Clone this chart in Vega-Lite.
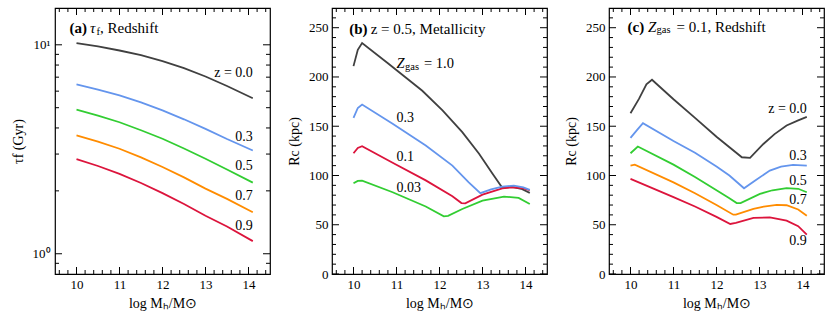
{
  "$schema": "https://vega.github.io/schema/vega-lite/v6.json",
  "padding": {"left": 10, "top": 7, "right": 4, "bottom": 0},
  "spacing": 15,
  "config": {
    "view": {"stroke": "black", "strokeWidth": 1.2},
    "axis": {"ticks": false, "grid": false, "domain": false,
      "labelFont": "Liberation Serif", "labelFontSize": 13, "labelColor": "black",
      "titleFont": "Liberation Serif", "titleFontSize": 14, "titleFontWeight": "normal", "titleColor": "black"},
    "text": {"font": "Liberation Serif", "fontSize": 14, "color": "black", "baseline": "middle"},
    "line": {"strokeWidth": 1.8},
    "tick": {"color": "black", "opacity": 1, "thickness": 1}
  },
  "datasets": {
    "xmaj": [{"v": 10}, {"v": 11}, {"v": 12}, {"v": 13}, {"v": 14}],
    "xmin": [{"v": 9.6}, {"v": 9.8}, {"v": 10.2}, {"v": 10.4}, {"v": 10.6}, {"v": 10.8}, {"v": 11.2}, {"v": 11.4}, {"v": 11.6}, {"v": 11.8}, {"v": 12.2}, {"v": 12.4}, {"v": 12.6}, {"v": 12.8}, {"v": 13.2}, {"v": 13.4}, {"v": 13.6}, {"v": 13.8}, {"v": 14.2}, {"v": 14.4}],
    "ymaj_a": [{"v": 1}, {"v": 10}],
    "ymin_a": [{"v": 0.9}, {"v": 2}, {"v": 3}, {"v": 4}, {"v": 5}, {"v": 6}, {"v": 7}, {"v": 8}, {"v": 9}],
    "ymaj_r": [{"v": 0}, {"v": 50}, {"v": 100}, {"v": 150}, {"v": 200}, {"v": 250}],
    "ymin_r": [{"v": 10}, {"v": 20}, {"v": 30}, {"v": 40}, {"v": 60}, {"v": 70}, {"v": 80}, {"v": 90}, {"v": 110}, {"v": 120}, {"v": 130}, {"v": 140}, {"v": 160}, {"v": 170}, {"v": 180}, {"v": 190}, {"v": 210}, {"v": 220}, {"v": 230}, {"v": 240}, {"v": 260}],
    "a": [
      {"z": "0.0", "m": 10.0, "tau": 10.18}, {"z": "0.0", "m": 10.5, "tau": 9.82}, {"z": "0.0", "m": 11.0, "tau": 9.39}, {"z": "0.0", "m": 11.5, "tau": 8.92}, {"z": "0.0", "m": 12.0, "tau": 8.35}, {"z": "0.0", "m": 12.5, "tau": 7.73}, {"z": "0.0", "m": 13.0, "tau": 7.05}, {"z": "0.0", "m": 13.5, "tau": 6.35}, {"z": "0.0", "m": 14.1, "tau": 5.55},
      {"z": "0.3", "m": 10.0, "tau": 6.46}, {"z": "0.3", "m": 10.5, "tau": 6.10}, {"z": "0.3", "m": 11.0, "tau": 5.72}, {"z": "0.3", "m": 11.5, "tau": 5.30}, {"z": "0.3", "m": 12.0, "tau": 4.85}, {"z": "0.3", "m": 12.5, "tau": 4.40}, {"z": "0.3", "m": 13.0, "tau": 3.96}, {"z": "0.3", "m": 13.5, "tau": 3.54}, {"z": "0.3", "m": 14.1, "tau": 3.12},
      {"z": "0.5", "m": 10.0, "tau": 4.89}, {"z": "0.5", "m": 10.5, "tau": 4.58}, {"z": "0.5", "m": 11.0, "tau": 4.26}, {"z": "0.5", "m": 11.5, "tau": 3.90}, {"z": "0.5", "m": 12.0, "tau": 3.55}, {"z": "0.5", "m": 12.5, "tau": 3.19}, {"z": "0.5", "m": 13.0, "tau": 2.85}, {"z": "0.5", "m": 13.5, "tau": 2.53}, {"z": "0.5", "m": 14.1, "tau": 2.19},
      {"z": "0.7", "m": 10.0, "tau": 3.69}, {"z": "0.7", "m": 10.5, "tau": 3.44}, {"z": "0.7", "m": 11.0, "tau": 3.18}, {"z": "0.7", "m": 11.5, "tau": 2.89}, {"z": "0.7", "m": 12.0, "tau": 2.60}, {"z": "0.7", "m": 12.5, "tau": 2.32}, {"z": "0.7", "m": 13.0, "tau": 2.05}, {"z": "0.7", "m": 13.5, "tau": 1.83}, {"z": "0.7", "m": 14.1, "tau": 1.58},
      {"z": "0.9", "m": 10.0, "tau": 2.84}, {"z": "0.9", "m": 10.5, "tau": 2.63}, {"z": "0.9", "m": 11.0, "tau": 2.41}, {"z": "0.9", "m": 11.5, "tau": 2.18}, {"z": "0.9", "m": 12.0, "tau": 1.95}, {"z": "0.9", "m": 12.5, "tau": 1.73}, {"z": "0.9", "m": 13.0, "tau": 1.52}, {"z": "0.9", "m": 13.5, "tau": 1.35}, {"z": "0.9", "m": 14.1, "tau": 1.149}
    ],
    "b": [
      {"zgas": "1.0", "m": 10.0, "rc": 211}, {"zgas": "1.0", "m": 10.1, "rc": 227.5}, {"zgas": "1.0", "m": 10.2, "rc": 234.5}, {"zgas": "1.0", "m": 10.8, "rc": 214}, {"zgas": "1.0", "m": 11.2, "rc": 200}, {"zgas": "1.0", "m": 11.6, "rc": 186}, {"zgas": "1.0", "m": 12.07, "rc": 166}, {"zgas": "1.0", "m": 12.53, "rc": 144}, {"zgas": "1.0", "m": 12.92, "rc": 122}, {"zgas": "1.0", "m": 13.23, "rc": 102}, {"zgas": "1.0", "m": 13.46, "rc": 87.5}, {"zgas": "1.0", "m": 13.69, "rc": 88.5}, {"zgas": "1.0", "m": 13.9, "rc": 86.5}, {"zgas": "1.0", "m": 14.1, "rc": 82.3},
      {"zgas": "0.1", "m": 10.0, "rc": 122.6}, {"zgas": "0.1", "m": 10.1, "rc": 128}, {"zgas": "0.1", "m": 10.2, "rc": 129.7}, {"zgas": "0.1", "m": 10.91, "rc": 113}, {"zgas": "0.1", "m": 11.68, "rc": 95}, {"zgas": "0.1", "m": 12.3, "rc": 79}, {"zgas": "0.1", "m": 12.51, "rc": 72}, {"zgas": "0.1", "m": 12.6, "rc": 71.7}, {"zgas": "0.1", "m": 13.0, "rc": 80.5}, {"zgas": "0.1", "m": 13.46, "rc": 87}, {"zgas": "0.1", "m": 13.69, "rc": 88}, {"zgas": "0.1", "m": 13.95, "rc": 87}, {"zgas": "0.1", "m": 14.1, "rc": 85},
      {"zgas": "0.03", "m": 10.0, "rc": 92.1}, {"zgas": "0.03", "m": 10.1, "rc": 94.5}, {"zgas": "0.03", "m": 10.2, "rc": 94.8}, {"zgas": "0.03", "m": 10.91, "rc": 83}, {"zgas": "0.03", "m": 11.68, "rc": 68.5}, {"zgas": "0.03", "m": 12.1, "rc": 58.5}, {"zgas": "0.03", "m": 12.2, "rc": 59}, {"zgas": "0.03", "m": 12.53, "rc": 66}, {"zgas": "0.03", "m": 13.0, "rc": 74.5}, {"zgas": "0.03", "m": 13.5, "rc": 78.6}, {"zgas": "0.03", "m": 13.84, "rc": 77.2}, {"zgas": "0.03", "m": 14.1, "rc": 71.1},
      {"zgas": "0.3", "m": 10.0, "rc": 158.5}, {"zgas": "0.3", "m": 10.1, "rc": 168.5}, {"zgas": "0.3", "m": 10.2, "rc": 172}, {"zgas": "0.3", "m": 10.91, "rc": 152.4}, {"zgas": "0.3", "m": 11.68, "rc": 130.4}, {"zgas": "0.3", "m": 12.3, "rc": 110}, {"zgas": "0.3", "m": 12.68, "rc": 93}, {"zgas": "0.3", "m": 12.95, "rc": 82}, {"zgas": "0.3", "m": 13.2, "rc": 85.8}, {"zgas": "0.3", "m": 13.46, "rc": 88.7}, {"zgas": "0.3", "m": 13.73, "rc": 89.7}, {"zgas": "0.3", "m": 13.95, "rc": 88}, {"zgas": "0.3", "m": 14.1, "rc": 85.4}
    ],
    "c": [
      {"z": "0.0", "m": 10.0, "rc": 163.2}, {"z": "0.0", "m": 10.2, "rc": 178}, {"z": "0.0", "m": 10.37, "rc": 192.6}, {"z": "0.0", "m": 10.5, "rc": 197.2}, {"z": "0.0", "m": 11.0, "rc": 177.4}, {"z": "0.0", "m": 11.5, "rc": 158.5}, {"z": "0.0", "m": 12.0, "rc": 139.3}, {"z": "0.0", "m": 12.59, "rc": 118.5}, {"z": "0.0", "m": 12.78, "rc": 117.9}, {"z": "0.0", "m": 13.09, "rc": 132}, {"z": "0.0", "m": 13.35, "rc": 142}, {"z": "0.0", "m": 13.63, "rc": 150.7}, {"z": "0.0", "m": 13.9, "rc": 156}, {"z": "0.0", "m": 14.1, "rc": 159.5},
      {"z": "0.3", "m": 10.0, "rc": 138.2}, {"z": "0.3", "m": 10.15, "rc": 146}, {"z": "0.3", "m": 10.29, "rc": 153}, {"z": "0.3", "m": 11.0, "rc": 135}, {"z": "0.3", "m": 11.5, "rc": 123}, {"z": "0.3", "m": 12.0, "rc": 109}, {"z": "0.3", "m": 12.3, "rc": 100}, {"z": "0.3", "m": 12.64, "rc": 87}, {"z": "0.3", "m": 12.9, "rc": 95}, {"z": "0.3", "m": 13.24, "rc": 105}, {"z": "0.3", "m": 13.5, "rc": 109}, {"z": "0.3", "m": 13.78, "rc": 110.8}, {"z": "0.3", "m": 14.1, "rc": 110},
      {"z": "0.5", "m": 10.0, "rc": 122.6}, {"z": "0.5", "m": 10.17, "rc": 129.4}, {"z": "0.5", "m": 11.0, "rc": 111}, {"z": "0.5", "m": 11.5, "rc": 98.5}, {"z": "0.5", "m": 12.0, "rc": 85}, {"z": "0.5", "m": 12.3, "rc": 77}, {"z": "0.5", "m": 12.47, "rc": 72}, {"z": "0.5", "m": 12.56, "rc": 72}, {"z": "0.5", "m": 13.01, "rc": 81.3}, {"z": "0.5", "m": 13.3, "rc": 85}, {"z": "0.5", "m": 13.63, "rc": 87.2}, {"z": "0.5", "m": 13.9, "rc": 86.5}, {"z": "0.5", "m": 14.1, "rc": 83},
      {"z": "0.7", "m": 10.0, "rc": 110}, {"z": "0.7", "m": 10.1, "rc": 111}, {"z": "0.7", "m": 11.0, "rc": 93}, {"z": "0.7", "m": 11.5, "rc": 82}, {"z": "0.7", "m": 12.0, "rc": 70}, {"z": "0.7", "m": 12.39, "rc": 60.2}, {"z": "0.7", "m": 12.45, "rc": 60.3}, {"z": "0.7", "m": 12.86, "rc": 66}, {"z": "0.7", "m": 13.1, "rc": 68.5}, {"z": "0.7", "m": 13.4, "rc": 70.1}, {"z": "0.7", "m": 13.63, "rc": 69.8}, {"z": "0.7", "m": 13.9, "rc": 65.5}, {"z": "0.7", "m": 14.1, "rc": 59.2},
      {"z": "0.9", "m": 10.0, "rc": 96.5}, {"z": "0.9", "m": 11.0, "rc": 78}, {"z": "0.9", "m": 11.5, "rc": 68.5}, {"z": "0.9", "m": 12.0, "rc": 58}, {"z": "0.9", "m": 12.32, "rc": 50.8}, {"z": "0.9", "m": 12.45, "rc": 52}, {"z": "0.9", "m": 12.86, "rc": 56.9}, {"z": "0.9", "m": 13.24, "rc": 57.5}, {"z": "0.9", "m": 13.63, "rc": 54.2}, {"z": "0.9", "m": 13.9, "rc": 48.5}, {"z": "0.9", "m": 14.1, "rc": 40}
    ],
    "notes": [
      {"panel": "a", "part": "bold", "x": 9.84, "y": 11.97, "text": "(a)"},
      {"panel": "a", "part": "main", "x": 9.84, "y": 11.97, "text": "τ"},
      {"panel": "a", "part": "sub", "x": 9.84, "y": 11.97, "text": "f"},
      {"panel": "a", "part": "rest", "x": 9.84, "y": 11.97, "text": ",  Redshift"},
      {"panel": "a", "part": "series", "x": 14.1, "y": 7.33, "text": "z = 0.0"},
      {"panel": "a", "part": "series", "x": 14.1, "y": 3.64, "text": "0.3"},
      {"panel": "a", "part": "series", "x": 14.1, "y": 2.64, "text": "0.5"},
      {"panel": "a", "part": "series", "x": 14.1, "y": 1.88, "text": "0.7"},
      {"panel": "a", "part": "series", "x": 14.1, "y": 1.354, "text": "0.9"},
      {"panel": "b", "part": "bold", "x": 9.9, "y": 249, "text": "(b)"},
      {"panel": "b", "part": "rest", "x": 9.9, "y": 249, "text": "z = 0.5,  Metallicity"},
      {"panel": "b", "part": "main", "x": 11.0, "y": 213.4, "text": "Z"},
      {"panel": "b", "part": "sub", "x": 11.0, "y": 213.4, "text": "gas"},
      {"panel": "b", "part": "eq", "x": 11.0, "y": 213.4, "text": "= 1.0"},
      {"panel": "b", "part": "series", "x": 11.0, "y": 158.3, "text": "0.3"},
      {"panel": "b", "part": "series", "x": 11.0, "y": 118.5, "text": "0.1"},
      {"panel": "b", "part": "series", "x": 11.0, "y": 87.5, "text": "0.03"},
      {"panel": "c", "part": "bold", "x": 9.93, "y": 251, "text": "(c)"},
      {"panel": "c", "part": "main", "x": 9.93, "y": 251, "text": "Z"},
      {"panel": "c", "part": "sub", "x": 9.93, "y": 251, "text": "gas"},
      {"panel": "c", "part": "rest", "x": 9.93, "y": 251, "text": "= 0.1,  Redshift"},
      {"panel": "c", "part": "series", "x": 14.1, "y": 167, "text": "z = 0.0"},
      {"panel": "c", "part": "series", "x": 14.1, "y": 119.4, "text": "0.3"},
      {"panel": "c", "part": "series", "x": 14.1, "y": 94, "text": "0.5"},
      {"panel": "c", "part": "series", "x": 14.1, "y": 74.7, "text": "0.7"},
      {"panel": "c", "part": "series", "x": 14.1, "y": 33.8, "text": "0.9"}
    ]
  },
  "hconcat": [
    {
      "width": 215, "height": 266,
      "layer": [
        {"data": {"name": "a"}, "mark": {"type": "line"},
         "encoding": {
           "x": {"field": "m", "type": "quantitative", "scale": {"domain": [9.5, 14.5], "nice": false, "zero": false},
                 "axis": {"values": [10, 11, 12, 13, 14], "labelPadding": 4, "title": "log Mₕ/M⊙", "titlePadding": 5}},
           "y": {"field": "tau", "type": "quantitative", "scale": {"type": "log", "domain": [0.8, 15], "nice": false},
                 "axis": {"values": [1, 10], "labelExpr": "datum.value >= 10 ? '10¹' : '10⁰'", "labelPadding": 5, "title": "τf (Gyr)", "titlePadding": 7}},
           "color": {"field": "z", "type": "nominal", "scale": {"domain": ["0.0", "0.3", "0.5", "0.7", "0.9"], "range": ["#404040", "#6495ED", "#32CD32", "#FF8C00", "#DC143C"]}, "legend": null}
         }},
        {"data": {"name": "xmaj"}, "mark": {"type": "tick", "orient": "vertical", "size": 14, "clip": true},
         "encoding": {"x": {"field": "v", "type": "quantitative", "axis": {"values": [10, 11, 12, 13, 14], "labelPadding": 4, "title": "log Mₕ/M⊙", "titlePadding": 5}},
                      "y": {"datum": 0.8, "type": "quantitative", "axis": {"values": [1, 10], "labelExpr": "datum.value >= 10 ? '10¹' : '10⁰'", "labelPadding": 5, "title": "τf (Gyr)", "titlePadding": 7}}}},
        {"data": {"name": "xmaj"}, "mark": {"type": "tick", "orient": "vertical", "size": 14, "clip": true},
         "encoding": {"x": {"field": "v", "type": "quantitative", "axis": {"values": [10, 11, 12, 13, 14], "labelPadding": 4, "title": "log Mₕ/M⊙", "titlePadding": 5}},
                      "y": {"datum": 15, "type": "quantitative", "axis": {"values": [1, 10], "labelExpr": "datum.value >= 10 ? '10¹' : '10⁰'", "labelPadding": 5, "title": "τf (Gyr)", "titlePadding": 7}}}},
        {"data": {"name": "xmin"}, "mark": {"type": "tick", "orient": "vertical", "size": 8, "clip": true},
         "encoding": {"x": {"field": "v", "type": "quantitative", "axis": {"values": [10, 11, 12, 13, 14], "labelPadding": 4, "title": "log Mₕ/M⊙", "titlePadding": 5}},
                      "y": {"datum": 0.8, "type": "quantitative", "axis": {"values": [1, 10], "labelExpr": "datum.value >= 10 ? '10¹' : '10⁰'", "labelPadding": 5, "title": "τf (Gyr)", "titlePadding": 7}}}},
        {"data": {"name": "xmin"}, "mark": {"type": "tick", "orient": "vertical", "size": 8, "clip": true},
         "encoding": {"x": {"field": "v", "type": "quantitative", "axis": {"values": [10, 11, 12, 13, 14], "labelPadding": 4, "title": "log Mₕ/M⊙", "titlePadding": 5}},
                      "y": {"datum": 15, "type": "quantitative", "axis": {"values": [1, 10], "labelExpr": "datum.value >= 10 ? '10¹' : '10⁰'", "labelPadding": 5, "title": "τf (Gyr)", "titlePadding": 7}}}},
        {"data": {"name": "ymaj_a"}, "mark": {"type": "tick", "orient": "horizontal", "size": 14, "clip": true},
         "encoding": {"y": {"field": "v", "type": "quantitative", "axis": {"values": [1, 10], "labelExpr": "datum.value >= 10 ? '10¹' : '10⁰'", "labelPadding": 5, "title": "τf (Gyr)", "titlePadding": 7}},
                      "x": {"datum": 9.5, "type": "quantitative", "axis": {"values": [10, 11, 12, 13, 14], "labelPadding": 4, "title": "log Mₕ/M⊙", "titlePadding": 5}}}},
        {"data": {"name": "ymaj_a"}, "mark": {"type": "tick", "orient": "horizontal", "size": 14, "clip": true},
         "encoding": {"y": {"field": "v", "type": "quantitative", "axis": {"values": [1, 10], "labelExpr": "datum.value >= 10 ? '10¹' : '10⁰'", "labelPadding": 5, "title": "τf (Gyr)", "titlePadding": 7}},
                      "x": {"datum": 14.5, "type": "quantitative", "axis": {"values": [10, 11, 12, 13, 14], "labelPadding": 4, "title": "log Mₕ/M⊙", "titlePadding": 5}}}},
        {"data": {"name": "ymin_a"}, "mark": {"type": "tick", "orient": "horizontal", "size": 8, "clip": true},
         "encoding": {"y": {"field": "v", "type": "quantitative", "axis": {"values": [1, 10], "labelExpr": "datum.value >= 10 ? '10¹' : '10⁰'", "labelPadding": 5, "title": "τf (Gyr)", "titlePadding": 7}},
                      "x": {"datum": 9.5, "type": "quantitative", "axis": {"values": [10, 11, 12, 13, 14], "labelPadding": 4, "title": "log Mₕ/M⊙", "titlePadding": 5}}}},
        {"data": {"name": "ymin_a"}, "mark": {"type": "tick", "orient": "horizontal", "size": 8, "clip": true},
         "encoding": {"y": {"field": "v", "type": "quantitative", "axis": {"values": [1, 10], "labelExpr": "datum.value >= 10 ? '10¹' : '10⁰'", "labelPadding": 5, "title": "τf (Gyr)", "titlePadding": 7}},
                      "x": {"datum": 14.5, "type": "quantitative", "axis": {"values": [10, 11, 12, 13, 14], "labelPadding": 4, "title": "log Mₕ/M⊙", "titlePadding": 5}}}},
        {"data": {"name": "notes"}, "transform": [{"filter": "datum.panel == 'a' && datum.part == 'bold'"}],
         "mark": {"type": "text", "align": "left", "fontWeight": "bold", "fontSize": 15},
         "encoding": {"x": {"field": "x", "type": "quantitative", "axis": {"values": [10, 11, 12, 13, 14], "labelPadding": 4, "title": "log Mₕ/M⊙", "titlePadding": 5}},
                      "y": {"field": "y", "type": "quantitative", "axis": {"values": [1, 10], "labelExpr": "datum.value >= 10 ? '10¹' : '10⁰'", "labelPadding": 5, "title": "τf (Gyr)", "titlePadding": 7}}, "text": {"field": "text"}}},
        {"data": {"name": "notes"}, "transform": [{"filter": "datum.panel == 'a' && datum.part == 'main'"}],
         "mark": {"type": "text", "align": "left", "fontStyle": "italic", "fontSize": 15, "dx": 20.5},
         "encoding": {"x": {"field": "x", "type": "quantitative", "axis": {"values": [10, 11, 12, 13, 14], "labelPadding": 4, "title": "log Mₕ/M⊙", "titlePadding": 5}},
                      "y": {"field": "y", "type": "quantitative", "axis": {"values": [1, 10], "labelExpr": "datum.value >= 10 ? '10¹' : '10⁰'", "labelPadding": 5, "title": "τf (Gyr)", "titlePadding": 7}}, "text": {"field": "text"}}},
        {"data": {"name": "notes"}, "transform": [{"filter": "datum.panel == 'a' && datum.part == 'sub'"}],
         "mark": {"type": "text", "align": "left", "fontSize": 10.5, "dx": 27, "dy": 3.5},
         "encoding": {"x": {"field": "x", "type": "quantitative", "axis": {"values": [10, 11, 12, 13, 14], "labelPadding": 4, "title": "log Mₕ/M⊙", "titlePadding": 5}},
                      "y": {"field": "y", "type": "quantitative", "axis": {"values": [1, 10], "labelExpr": "datum.value >= 10 ? '10¹' : '10⁰'", "labelPadding": 5, "title": "τf (Gyr)", "titlePadding": 7}}, "text": {"field": "text"}}},
        {"data": {"name": "notes"}, "transform": [{"filter": "datum.panel == 'a' && datum.part == 'rest'"}],
         "mark": {"type": "text", "align": "left", "fontSize": 15, "dx": 30.5},
         "encoding": {"x": {"field": "x", "type": "quantitative", "axis": {"values": [10, 11, 12, 13, 14], "labelPadding": 4, "title": "log Mₕ/M⊙", "titlePadding": 5}},
                      "y": {"field": "y", "type": "quantitative", "axis": {"values": [1, 10], "labelExpr": "datum.value >= 10 ? '10¹' : '10⁰'", "labelPadding": 5, "title": "τf (Gyr)", "titlePadding": 7}}, "text": {"field": "text"}}},
        {"data": {"name": "notes"}, "transform": [{"filter": "datum.panel == 'a' && datum.part == 'series'"}],
         "mark": {"type": "text", "align": "right", "fontSize": 14},
         "encoding": {"x": {"field": "x", "type": "quantitative", "axis": {"values": [10, 11, 12, 13, 14], "labelPadding": 4, "title": "log Mₕ/M⊙", "titlePadding": 5}},
                      "y": {"field": "y", "type": "quantitative", "axis": {"values": [1, 10], "labelExpr": "datum.value >= 10 ? '10¹' : '10⁰'", "labelPadding": 5, "title": "τf (Gyr)", "titlePadding": 7}}, "text": {"field": "text"}}}
      ]
    },
    {
      "width": 215, "height": 266,
      "layer": [
        {"data": {"name": "b"}, "mark": {"type": "line"},
         "encoding": {
           "x": {"field": "m", "type": "quantitative", "scale": {"domain": [9.5, 14.5], "nice": false, "zero": false},
                 "axis": {"values": [10, 11, 12, 13, 14], "labelPadding": 4, "title": "log Mₕ/M⊙", "titlePadding": 5}},
           "y": {"field": "rc", "type": "quantitative", "scale": {"domain": [0, 270], "nice": false},
                 "axis": {"values": [0, 50, 100, 150, 200, 250], "labelPadding": 4, "title": "Rc (kpc)", "titlePadding": 7}},
           "color": {"field": "zgas", "type": "nominal", "scale": {"domain": ["1.0", "0.3", "0.1", "0.03"], "range": ["#404040", "#6495ED", "#DC143C", "#32CD32"]}, "legend": null}
         }},
        {"data": {"name": "xmaj"}, "mark": {"type": "tick", "orient": "vertical", "size": 14, "clip": true},
         "encoding": {"x": {"field": "v", "type": "quantitative", "axis": {"values": [10, 11, 12, 13, 14], "labelPadding": 4, "title": "log Mₕ/M⊙", "titlePadding": 5}},
                      "y": {"datum": 0, "type": "quantitative", "axis": {"values": [0, 50, 100, 150, 200, 250], "labelPadding": 4, "title": "Rc (kpc)", "titlePadding": 7}}}},
        {"data": {"name": "xmaj"}, "mark": {"type": "tick", "orient": "vertical", "size": 14, "clip": true},
         "encoding": {"x": {"field": "v", "type": "quantitative", "axis": {"values": [10, 11, 12, 13, 14], "labelPadding": 4, "title": "log Mₕ/M⊙", "titlePadding": 5}},
                      "y": {"datum": 270, "type": "quantitative", "axis": {"values": [0, 50, 100, 150, 200, 250], "labelPadding": 4, "title": "Rc (kpc)", "titlePadding": 7}}}},
        {"data": {"name": "xmin"}, "mark": {"type": "tick", "orient": "vertical", "size": 8, "clip": true},
         "encoding": {"x": {"field": "v", "type": "quantitative", "axis": {"values": [10, 11, 12, 13, 14], "labelPadding": 4, "title": "log Mₕ/M⊙", "titlePadding": 5}},
                      "y": {"datum": 0, "type": "quantitative", "axis": {"values": [0, 50, 100, 150, 200, 250], "labelPadding": 4, "title": "Rc (kpc)", "titlePadding": 7}}}},
        {"data": {"name": "xmin"}, "mark": {"type": "tick", "orient": "vertical", "size": 8, "clip": true},
         "encoding": {"x": {"field": "v", "type": "quantitative", "axis": {"values": [10, 11, 12, 13, 14], "labelPadding": 4, "title": "log Mₕ/M⊙", "titlePadding": 5}},
                      "y": {"datum": 270, "type": "quantitative", "axis": {"values": [0, 50, 100, 150, 200, 250], "labelPadding": 4, "title": "Rc (kpc)", "titlePadding": 7}}}},
        {"data": {"name": "ymaj_r"}, "mark": {"type": "tick", "orient": "horizontal", "size": 14, "clip": true},
         "encoding": {"y": {"field": "v", "type": "quantitative", "axis": {"values": [0, 50, 100, 150, 200, 250], "labelPadding": 4, "title": "Rc (kpc)", "titlePadding": 7}},
                      "x": {"datum": 9.5, "type": "quantitative", "axis": {"values": [10, 11, 12, 13, 14], "labelPadding": 4, "title": "log Mₕ/M⊙", "titlePadding": 5}}}},
        {"data": {"name": "ymaj_r"}, "mark": {"type": "tick", "orient": "horizontal", "size": 14, "clip": true},
         "encoding": {"y": {"field": "v", "type": "quantitative", "axis": {"values": [0, 50, 100, 150, 200, 250], "labelPadding": 4, "title": "Rc (kpc)", "titlePadding": 7}},
                      "x": {"datum": 14.5, "type": "quantitative", "axis": {"values": [10, 11, 12, 13, 14], "labelPadding": 4, "title": "log Mₕ/M⊙", "titlePadding": 5}}}},
        {"data": {"name": "ymin_r"}, "mark": {"type": "tick", "orient": "horizontal", "size": 8, "clip": true},
         "encoding": {"y": {"field": "v", "type": "quantitative", "axis": {"values": [0, 50, 100, 150, 200, 250], "labelPadding": 4, "title": "Rc (kpc)", "titlePadding": 7}},
                      "x": {"datum": 9.5, "type": "quantitative", "axis": {"values": [10, 11, 12, 13, 14], "labelPadding": 4, "title": "log Mₕ/M⊙", "titlePadding": 5}}}},
        {"data": {"name": "ymin_r"}, "mark": {"type": "tick", "orient": "horizontal", "size": 8, "clip": true},
         "encoding": {"y": {"field": "v", "type": "quantitative", "axis": {"values": [0, 50, 100, 150, 200, 250], "labelPadding": 4, "title": "Rc (kpc)", "titlePadding": 7}},
                      "x": {"datum": 14.5, "type": "quantitative", "axis": {"values": [10, 11, 12, 13, 14], "labelPadding": 4, "title": "log Mₕ/M⊙", "titlePadding": 5}}}},
        {"data": {"name": "notes"}, "transform": [{"filter": "datum.panel == 'b' && datum.part == 'bold'"}],
         "mark": {"type": "text", "align": "left", "fontWeight": "bold", "fontSize": 15},
         "encoding": {"x": {"field": "x", "type": "quantitative", "axis": {"values": [10, 11, 12, 13, 14], "labelPadding": 4, "title": "log Mₕ/M⊙", "titlePadding": 5}},
                      "y": {"field": "y", "type": "quantitative", "axis": {"values": [0, 50, 100, 150, 200, 250], "labelPadding": 4, "title": "Rc (kpc)", "titlePadding": 7}}, "text": {"field": "text"}}},
        {"data": {"name": "notes"}, "transform": [{"filter": "datum.panel == 'b' && datum.part == 'rest'"}],
         "mark": {"type": "text", "align": "left", "fontSize": 15, "dx": 21.5},
         "encoding": {"x": {"field": "x", "type": "quantitative", "axis": {"values": [10, 11, 12, 13, 14], "labelPadding": 4, "title": "log Mₕ/M⊙", "titlePadding": 5}},
                      "y": {"field": "y", "type": "quantitative", "axis": {"values": [0, 50, 100, 150, 200, 250], "labelPadding": 4, "title": "Rc (kpc)", "titlePadding": 7}}, "text": {"field": "text"}}},
        {"data": {"name": "notes"}, "transform": [{"filter": "datum.panel == 'b' && datum.part == 'main'"}],
         "mark": {"type": "text", "align": "left", "fontStyle": "italic", "fontSize": 14.5},
         "encoding": {"x": {"field": "x", "type": "quantitative", "axis": {"values": [10, 11, 12, 13, 14], "labelPadding": 4, "title": "log Mₕ/M⊙", "titlePadding": 5}},
                      "y": {"field": "y", "type": "quantitative", "axis": {"values": [0, 50, 100, 150, 200, 250], "labelPadding": 4, "title": "Rc (kpc)", "titlePadding": 7}}, "text": {"field": "text"}}},
        {"data": {"name": "notes"}, "transform": [{"filter": "datum.panel == 'b' && datum.part == 'sub'"}],
         "mark": {"type": "text", "align": "left", "fontSize": 10.5, "dx": 8.5, "dy": 3.5},
         "encoding": {"x": {"field": "x", "type": "quantitative", "axis": {"values": [10, 11, 12, 13, 14], "labelPadding": 4, "title": "log Mₕ/M⊙", "titlePadding": 5}},
                      "y": {"field": "y", "type": "quantitative", "axis": {"values": [0, 50, 100, 150, 200, 250], "labelPadding": 4, "title": "Rc (kpc)", "titlePadding": 7}}, "text": {"field": "text"}}},
        {"data": {"name": "notes"}, "transform": [{"filter": "datum.panel == 'b' && datum.part == 'eq'"}],
         "mark": {"type": "text", "align": "left", "fontSize": 14.5, "dx": 27.5},
         "encoding": {"x": {"field": "x", "type": "quantitative", "axis": {"values": [10, 11, 12, 13, 14], "labelPadding": 4, "title": "log Mₕ/M⊙", "titlePadding": 5}},
                      "y": {"field": "y", "type": "quantitative", "axis": {"values": [0, 50, 100, 150, 200, 250], "labelPadding": 4, "title": "Rc (kpc)", "titlePadding": 7}}, "text": {"field": "text"}}},
        {"data": {"name": "notes"}, "transform": [{"filter": "datum.panel == 'b' && datum.part == 'series'"}],
         "mark": {"type": "text", "align": "left", "fontSize": 14},
         "encoding": {"x": {"field": "x", "type": "quantitative", "axis": {"values": [10, 11, 12, 13, 14], "labelPadding": 4, "title": "log Mₕ/M⊙", "titlePadding": 5}},
                      "y": {"field": "y", "type": "quantitative", "axis": {"values": [0, 50, 100, 150, 200, 250], "labelPadding": 4, "title": "Rc (kpc)", "titlePadding": 7}}, "text": {"field": "text"}}}
      ]
    },
    {
      "width": 215, "height": 266,
      "layer": [
        {"data": {"name": "c"}, "mark": {"type": "line"},
         "encoding": {
           "x": {"field": "m", "type": "quantitative", "scale": {"domain": [9.5, 14.5], "nice": false, "zero": false},
                 "axis": {"values": [10, 11, 12, 13, 14], "labelPadding": 4, "title": "log Mₕ/M⊙", "titlePadding": 5}},
           "y": {"field": "rc", "type": "quantitative", "scale": {"domain": [0, 270], "nice": false},
                 "axis": {"values": [0, 50, 100, 150, 200, 250], "labelPadding": 4, "title": "Rc (kpc)", "titlePadding": 7}},
           "color": {"field": "z", "type": "nominal", "scale": {"domain": ["0.0", "0.3", "0.5", "0.7", "0.9"], "range": ["#404040", "#6495ED", "#32CD32", "#FF8C00", "#DC143C"]}, "legend": null}
         }},
        {"data": {"name": "xmaj"}, "mark": {"type": "tick", "orient": "vertical", "size": 14, "clip": true},
         "encoding": {"x": {"field": "v", "type": "quantitative", "axis": {"values": [10, 11, 12, 13, 14], "labelPadding": 4, "title": "log Mₕ/M⊙", "titlePadding": 5}},
                      "y": {"datum": 0, "type": "quantitative", "axis": {"values": [0, 50, 100, 150, 200, 250], "labelPadding": 4, "title": "Rc (kpc)", "titlePadding": 7}}}},
        {"data": {"name": "xmaj"}, "mark": {"type": "tick", "orient": "vertical", "size": 14, "clip": true},
         "encoding": {"x": {"field": "v", "type": "quantitative", "axis": {"values": [10, 11, 12, 13, 14], "labelPadding": 4, "title": "log Mₕ/M⊙", "titlePadding": 5}},
                      "y": {"datum": 270, "type": "quantitative", "axis": {"values": [0, 50, 100, 150, 200, 250], "labelPadding": 4, "title": "Rc (kpc)", "titlePadding": 7}}}},
        {"data": {"name": "xmin"}, "mark": {"type": "tick", "orient": "vertical", "size": 8, "clip": true},
         "encoding": {"x": {"field": "v", "type": "quantitative", "axis": {"values": [10, 11, 12, 13, 14], "labelPadding": 4, "title": "log Mₕ/M⊙", "titlePadding": 5}},
                      "y": {"datum": 0, "type": "quantitative", "axis": {"values": [0, 50, 100, 150, 200, 250], "labelPadding": 4, "title": "Rc (kpc)", "titlePadding": 7}}}},
        {"data": {"name": "xmin"}, "mark": {"type": "tick", "orient": "vertical", "size": 8, "clip": true},
         "encoding": {"x": {"field": "v", "type": "quantitative", "axis": {"values": [10, 11, 12, 13, 14], "labelPadding": 4, "title": "log Mₕ/M⊙", "titlePadding": 5}},
                      "y": {"datum": 270, "type": "quantitative", "axis": {"values": [0, 50, 100, 150, 200, 250], "labelPadding": 4, "title": "Rc (kpc)", "titlePadding": 7}}}},
        {"data": {"name": "ymaj_r"}, "mark": {"type": "tick", "orient": "horizontal", "size": 14, "clip": true},
         "encoding": {"y": {"field": "v", "type": "quantitative", "axis": {"values": [0, 50, 100, 150, 200, 250], "labelPadding": 4, "title": "Rc (kpc)", "titlePadding": 7}},
                      "x": {"datum": 9.5, "type": "quantitative", "axis": {"values": [10, 11, 12, 13, 14], "labelPadding": 4, "title": "log Mₕ/M⊙", "titlePadding": 5}}}},
        {"data": {"name": "ymaj_r"}, "mark": {"type": "tick", "orient": "horizontal", "size": 14, "clip": true},
         "encoding": {"y": {"field": "v", "type": "quantitative", "axis": {"values": [0, 50, 100, 150, 200, 250], "labelPadding": 4, "title": "Rc (kpc)", "titlePadding": 7}},
                      "x": {"datum": 14.5, "type": "quantitative", "axis": {"values": [10, 11, 12, 13, 14], "labelPadding": 4, "title": "log Mₕ/M⊙", "titlePadding": 5}}}},
        {"data": {"name": "ymin_r"}, "mark": {"type": "tick", "orient": "horizontal", "size": 8, "clip": true},
         "encoding": {"y": {"field": "v", "type": "quantitative", "axis": {"values": [0, 50, 100, 150, 200, 250], "labelPadding": 4, "title": "Rc (kpc)", "titlePadding": 7}},
                      "x": {"datum": 9.5, "type": "quantitative", "axis": {"values": [10, 11, 12, 13, 14], "labelPadding": 4, "title": "log Mₕ/M⊙", "titlePadding": 5}}}},
        {"data": {"name": "ymin_r"}, "mark": {"type": "tick", "orient": "horizontal", "size": 8, "clip": true},
         "encoding": {"y": {"field": "v", "type": "quantitative", "axis": {"values": [0, 50, 100, 150, 200, 250], "labelPadding": 4, "title": "Rc (kpc)", "titlePadding": 7}},
                      "x": {"datum": 14.5, "type": "quantitative", "axis": {"values": [10, 11, 12, 13, 14], "labelPadding": 4, "title": "log Mₕ/M⊙", "titlePadding": 5}}}},
        {"data": {"name": "notes"}, "transform": [{"filter": "datum.panel == 'c' && datum.part == 'bold'"}],
         "mark": {"type": "text", "align": "left", "fontWeight": "bold", "fontSize": 15},
         "encoding": {"x": {"field": "x", "type": "quantitative", "axis": {"values": [10, 11, 12, 13, 14], "labelPadding": 4, "title": "log Mₕ/M⊙", "titlePadding": 5}},
                      "y": {"field": "y", "type": "quantitative", "axis": {"values": [0, 50, 100, 150, 200, 250], "labelPadding": 4, "title": "Rc (kpc)", "titlePadding": 7}}, "text": {"field": "text"}}},
        {"data": {"name": "notes"}, "transform": [{"filter": "datum.panel == 'c' && datum.part == 'main'"}],
         "mark": {"type": "text", "align": "left", "fontStyle": "italic", "fontSize": 15, "dx": 20.5},
         "encoding": {"x": {"field": "x", "type": "quantitative", "axis": {"values": [10, 11, 12, 13, 14], "labelPadding": 4, "title": "log Mₕ/M⊙", "titlePadding": 5}},
                      "y": {"field": "y", "type": "quantitative", "axis": {"values": [0, 50, 100, 150, 200, 250], "labelPadding": 4, "title": "Rc (kpc)", "titlePadding": 7}}, "text": {"field": "text"}}},
        {"data": {"name": "notes"}, "transform": [{"filter": "datum.panel == 'c' && datum.part == 'sub'"}],
         "mark": {"type": "text", "align": "left", "fontSize": 10.5, "dx": 29, "dy": 3.5},
         "encoding": {"x": {"field": "x", "type": "quantitative", "axis": {"values": [10, 11, 12, 13, 14], "labelPadding": 4, "title": "log Mₕ/M⊙", "titlePadding": 5}},
                      "y": {"field": "y", "type": "quantitative", "axis": {"values": [0, 50, 100, 150, 200, 250], "labelPadding": 4, "title": "Rc (kpc)", "titlePadding": 7}}, "text": {"field": "text"}}},
        {"data": {"name": "notes"}, "transform": [{"filter": "datum.panel == 'c' && datum.part == 'rest'"}],
         "mark": {"type": "text", "align": "left", "fontSize": 15, "dx": 49},
         "encoding": {"x": {"field": "x", "type": "quantitative", "axis": {"values": [10, 11, 12, 13, 14], "labelPadding": 4, "title": "log Mₕ/M⊙", "titlePadding": 5}},
                      "y": {"field": "y", "type": "quantitative", "axis": {"values": [0, 50, 100, 150, 200, 250], "labelPadding": 4, "title": "Rc (kpc)", "titlePadding": 7}}, "text": {"field": "text"}}},
        {"data": {"name": "notes"}, "transform": [{"filter": "datum.panel == 'c' && datum.part == 'series'"}],
         "mark": {"type": "text", "align": "right", "fontSize": 14},
         "encoding": {"x": {"field": "x", "type": "quantitative", "axis": {"values": [10, 11, 12, 13, 14], "labelPadding": 4, "title": "log Mₕ/M⊙", "titlePadding": 5}},
                      "y": {"field": "y", "type": "quantitative", "axis": {"values": [0, 50, 100, 150, 200, 250], "labelPadding": 4, "title": "Rc (kpc)", "titlePadding": 7}}, "text": {"field": "text"}}}
      ]
    }
  ],
  "resolve": {"scale": {"color": "independent"}}
}
